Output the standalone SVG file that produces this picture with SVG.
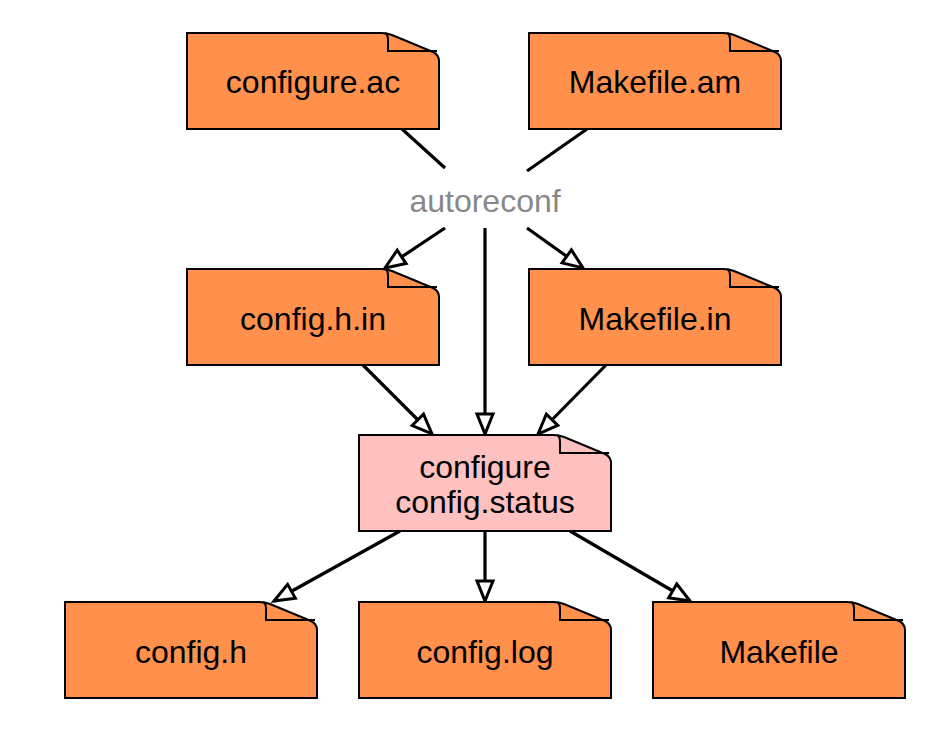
<svg xmlns="http://www.w3.org/2000/svg" width="944" height="737" viewBox="0 0 944 737">
<defs>
<style>
.doc{fill:#FF914D;stroke:#000;stroke-width:2}
.pink{fill:#FFC0C0}
.fold{fill:none;stroke:#000;stroke-width:2}
.lbl{font-family:"Liberation Sans",Arial,sans-serif;font-size:32px;fill:#000;text-anchor:middle}
.gray{fill:#888}
.edge{stroke:#000;stroke-width:3.2;fill:none}
</style>
<marker id="ah" markerUnits="userSpaceOnUse" markerWidth="26" markerHeight="22" viewBox="0 0 26 22" refX="23" refY="11" orient="auto">
<path d="M3,3 L23,11 L3,19 Z" fill="#fff" stroke="#000" stroke-width="3" stroke-linejoin="miter"/>
</marker>
</defs>
<g id="connectors">
<line class="edge" x1="402" y1="129" x2="445" y2="168"/>
<line class="edge" x1="587" y1="129" x2="527" y2="171"/>
<line class="edge" x1="445" y1="228" x2="385" y2="268" marker-end="url(#ah)"/>
<line class="edge" x1="527" y1="228" x2="583" y2="268" marker-end="url(#ah)"/>
<line class="edge" x1="485" y1="228" x2="485" y2="434" marker-end="url(#ah)"/>
<line class="edge" x1="363" y1="365" x2="432" y2="434" marker-end="url(#ah)"/>
<line class="edge" x1="606" y1="365" x2="538" y2="434" marker-end="url(#ah)"/>
<line class="edge" x1="400" y1="531" x2="274" y2="601" marker-end="url(#ah)"/>
<line class="edge" x1="485" y1="531" x2="485" y2="601" marker-end="url(#ah)"/>
<line class="edge" x1="570" y1="531" x2="690" y2="601" marker-end="url(#ah)"/>
</g>
<text id="autoreconf" class="lbl gray" x="485" y="212" font-size="31">autoreconf</text>
<g id="configure_ac" transform="translate(187,33)">
<path class="doc" d="M0,0 H194 Q200,0 205,2 L246,19 Q252,22 252,28 V96 H0 Z"/>
<path class="fold" d="M198,0 Q201,1 201,7 V18 H250"/>
<text class="lbl" x="126" y="60">configure.ac</text>
</g>
<g id="makefile_am" transform="translate(529,33)">
<path class="doc" d="M0,0 H194 Q200,0 205,2 L246,19 Q252,22 252,28 V96 H0 Z"/>
<path class="fold" d="M198,0 Q201,1 201,7 V18 H250"/>
<text class="lbl" x="126" y="60">Makefile.am</text>
</g>
<g id="config_h_in" transform="translate(187,269)">
<path class="doc" d="M0,0 H194 Q200,0 205,2 L246,19 Q252,22 252,28 V96 H0 Z"/>
<path class="fold" d="M198,0 Q201,1 201,7 V18 H250"/>
<text class="lbl" x="126" y="61">config.h.in</text>
</g>
<g id="makefile_in" transform="translate(529,269)">
<path class="doc" d="M0,0 H194 Q200,0 205,2 L246,19 Q252,22 252,28 V96 H0 Z"/>
<path class="fold" d="M198,0 Q201,1 201,7 V18 H250"/>
<text class="lbl" x="126" y="61">Makefile.in</text>
</g>
<g id="configure" transform="translate(359,435)">
<path class="doc pink" d="M0,0 H194 Q200,0 205,2 L246,19 Q252,22 252,28 V96 H0 Z"/>
<path class="fold" d="M198,0 Q201,1 201,7 V18 H250"/>
<text class="lbl" x="126" y="43">configure</text>
<text class="lbl" x="126" y="78">config.status</text>
</g>
<g id="config_h" transform="translate(65,602)">
<path class="doc" d="M0,0 H194 Q200,0 205,2 L246,19 Q252,22 252,28 V96 H0 Z"/>
<path class="fold" d="M198,0 Q201,1 201,7 V18 H250"/>
<text class="lbl" x="126" y="61">config.h</text>
</g>
<g id="config_log" transform="translate(359,602)">
<path class="doc" d="M0,0 H194 Q200,0 205,2 L246,19 Q252,22 252,28 V96 H0 Z"/>
<path class="fold" d="M198,0 Q201,1 201,7 V18 H250"/>
<text class="lbl" x="126" y="61">config.log</text>
</g>
<g id="makefile" transform="translate(653,602)">
<path class="doc" d="M0,0 H194 Q200,0 205,2 L246,19 Q252,22 252,28 V96 H0 Z"/>
<path class="fold" d="M198,0 Q201,1 201,7 V18 H250"/>
<text class="lbl" x="126" y="61">Makefile</text>
</g>
</svg>
